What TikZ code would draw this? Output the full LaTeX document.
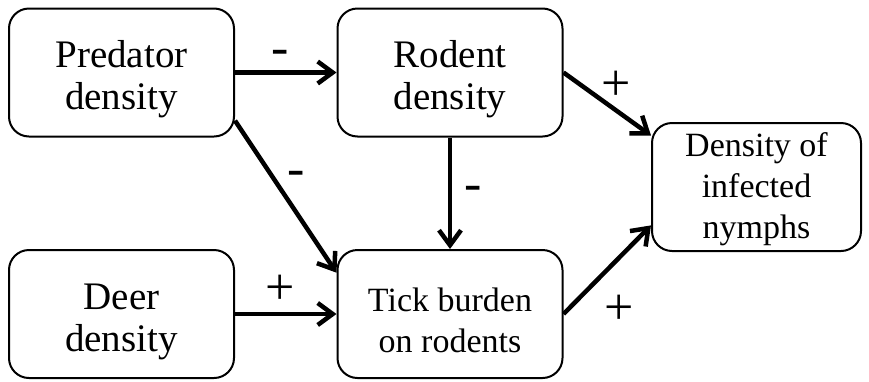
\documentclass[tikz,border=0pt]{standalone}
\usepackage{fontspec}
\setmainfont{Liberation Serif}
\usetikzlibrary{arrows.meta}

\begin{document}
\begin{tikzpicture}[x=1pt,y=-1pt,
  box/.style={draw,line width=2pt,rounded corners=20pt,align=center,
              minimum width=225pt,minimum height=128pt,inner sep=0pt,
              execute at begin node={\rule{0pt}{#1}}},
  box/.default=83pt,
  bigtext/.style={font=\fontsize{39}{42}\selectfont},
  smalltext/.style={font=\fontsize{34}{41}\selectfont},
  link/.style={line width=4.5pt,-{Straight Barb[length=15pt,width=22pt]}},
  sign/.style={anchor=base,inner sep=0pt,font=\fontsize{52}{52}\selectfont}]
  \useasboundingbox (0,0) rectangle (869,381);

  \node [box,bigtext]   (pred)   at (121.5,72.5) {Predator\\density};
  \node [box,bigtext]   (rodent) at (450,72.5)   {Rodent\\density};
  \node [box,bigtext]   (deer)   at (121.5,314)  {Deer\\density};
  \node [box=78pt,smalltext] (tick) at (450,314) {Tick burden\\on rodents};
  \node [box=111pt,smalltext,minimum width=209pt] (nymph) at (756.5,187)
        {Density of\\infected\\nymphs};

  \draw [link] (pred) -- (rodent);
  \draw [link] (pred.-23.6) -- (tick.160);
  \draw [link] (rodent) -- (tick);
  \draw [link] (deer) -- (tick);
  \draw [link] (rodent.east) -- (nymph.154.6);
  \draw [link] (tick.east) -- (nymph.200);

  \node [sign] (sPR) at (280,64.7)  {-};
  \node [sign] (sPT) at (296,185.7) {-};
  \node [sign] (sRT) at (473,200.7) {-};
  \node [sign] (sDT) at (280,304)   {+};
  \node [sign] (sRN) at (616,100)   {+};
  \node [sign] (sTN) at (619,324)   {+};
\end{tikzpicture}
\end{document}
